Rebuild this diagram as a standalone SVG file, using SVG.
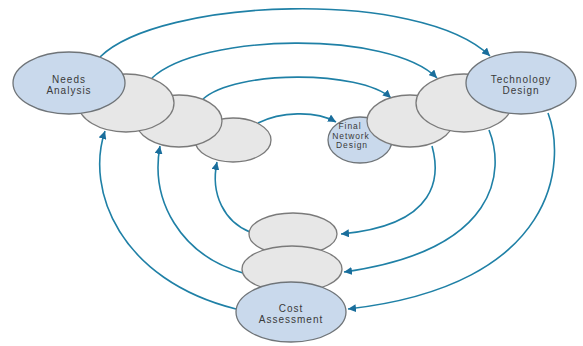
<svg xmlns="http://www.w3.org/2000/svg" width="583" height="346" viewBox="0 0 583 346">
<style>
.blue{fill:#c9d9ec;stroke:#6f7478;stroke-width:1.3}
.gray{fill:#e7e7e7;stroke:#7a7a7a;stroke-width:1.3}
.con{fill:none;stroke:#1f80a6;stroke-width:1.6}
.t{font-family:"Liberation Sans",Arial,sans-serif;font-size:10px;letter-spacing:1px;fill:#3a3a3a;text-anchor:middle}
.s{font-size:8.5px;letter-spacing:0.9px}
</style>
<defs>
<marker id="ah" viewBox="0 0 10 10" refX="10" refY="5" markerWidth="5" markerHeight="5" orient="auto" markerUnits="strokeWidth">
<path d="M0,0 L10,5 L0,10 z" fill="#1a6e9c"/>
</marker>
</defs>
<rect width="583" height="346" fill="#ffffff"/>
<g id="connectors">
<path class="con" marker-end="url(#ah)" d="M100,57 C160,-2 420,-12 490,56"/>
<path class="con" marker-end="url(#ah)" d="M152,78 C200,33 390,30 437,78"/>
<path class="con" marker-end="url(#ah)" d="M203,99 C235,70 360,70 391,98"/>
<path class="con" marker-end="url(#ah)" d="M258,123 C280,112 315,110 336,122"/>
<path class="con" marker-end="url(#ah)" d="M432,146 C440,175 440,225 341,234"/>
<path class="con" marker-end="url(#ah)" d="M489,130 C505,170 500,250 344,272"/>
<path class="con" marker-end="url(#ah)" d="M548,113 C566,160 560,285 348,309"/>
<path class="con" marker-end="url(#ah)" d="M236,309 C120,280 85,190 105,131"/>
<path class="con" marker-end="url(#ah)" d="M243,273 C180,255 150,200 160,146"/>
<path class="con" marker-end="url(#ah)" d="M250,232 C225,222 210,195 217,162"/>
</g>
<g id="left-gray-3"><ellipse class="gray" cx="233" cy="140" rx="38" ry="22"/></g>
<g id="left-gray-2"><ellipse class="gray" cx="179" cy="121" rx="43" ry="26"/></g>
<g id="left-gray-1"><ellipse class="gray" cx="126" cy="103" rx="48" ry="29"/></g>
<g id="needs-analysis">
<ellipse class="blue" cx="69" cy="83" rx="56" ry="31"/>
<text class="t" x="69" y="83">Needs</text>
<text class="t" x="69" y="94">Analysis</text>
</g>
<g id="final-network-design">
<ellipse class="blue" cx="360" cy="140" rx="32" ry="23"/>
<text class="t s" x="350" y="129">Final</text>
<text class="t s" x="351" y="138.5">Network</text>
<text class="t s" x="352" y="148">Design</text>
</g>
<g id="right-gray-1"><ellipse class="gray" cx="410" cy="121" rx="43" ry="26"/></g>
<g id="right-gray-2"><ellipse class="gray" cx="464" cy="103" rx="48" ry="29"/></g>
<g id="technology-design">
<ellipse class="blue" cx="521" cy="83" rx="55" ry="31"/>
<text class="t" x="521" y="83">Technology</text>
<text class="t" x="521" y="94">Design</text>
</g>
<g id="bottom-gray-1"><ellipse class="gray" cx="293" cy="234" rx="44" ry="21"/></g>
<g id="bottom-gray-2"><ellipse class="gray" cx="292" cy="269" rx="50" ry="23"/></g>
<g id="cost-assessment">
<ellipse class="blue" cx="291" cy="312" rx="55" ry="30"/>
<text class="t" x="291" y="312">Cost</text>
<text class="t" x="291" y="323">Assessment</text>
</g>
</svg>
